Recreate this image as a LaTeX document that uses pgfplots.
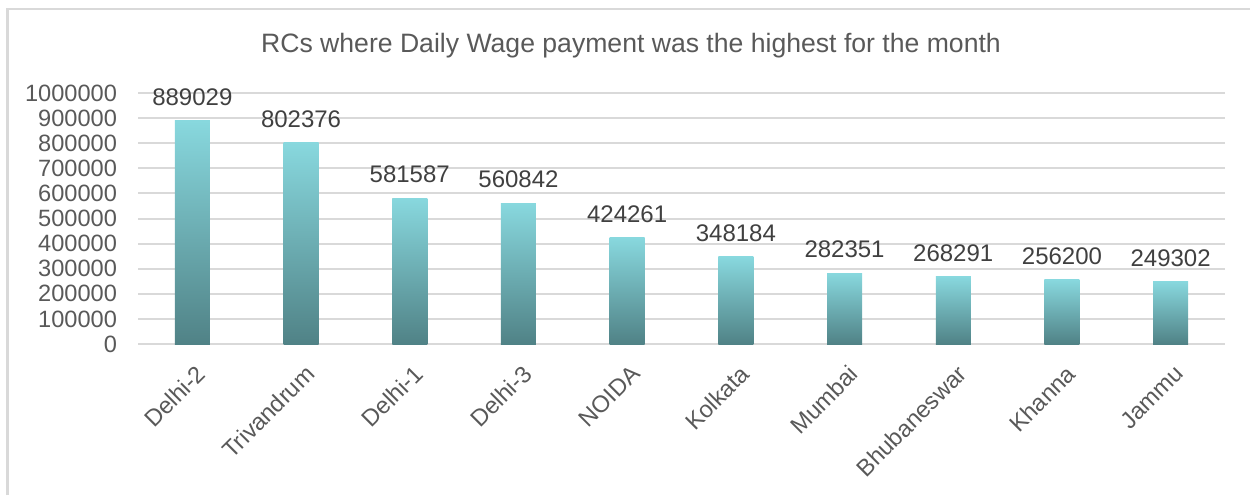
\documentclass[border=0pt]{standalone}
\usepackage{pgfplots}
\pgfplotsset{compat=1.18}
\usepackage{fontspec}
\setmainfont{Liberation Sans}
\definecolor{gridc}{HTML}{D9D9D9}
\definecolor{txt}{HTML}{595959}
\definecolor{lbl}{HTML}{404040}
\definecolor{bartop}{HTML}{88D8DE}
\definecolor{barbot}{HTML}{508286}
\begin{document}
\begin{tikzpicture}
\path[use as bounding box] (0pt,0pt) rectangle (625pt,-247.5pt);
\draw[gridc, line width=1.2pt] (3.8pt,-247.5pt) -- (3.8pt,-4.6pt) -- (625pt,-4.6pt);
\node[text=txt, font=\fontsize{13.3}{15}\selectfont] at (315.5pt,-22.8pt) {RCs where Daily Wage payment was the highest for the month};
\begin{axis}[
  at={(69pt,-172pt)}, anchor=south west,
  width=543.5pt, height=125.5pt, scale only axis,
  xmin=-0.5, xmax=9.5, ymin=0, ymax=1000000,
  ytick={0,100000,...,1000000},
  xtick={0,...,9},
  xticklabels={Delhi-2,Trivandrum,Delhi-1,Delhi-3,NOIDA,Kolkata,Mumbai,Bhubaneswar,Khanna,Jammu},
  scaled y ticks=false,
  /pgf/number format/assume math mode=true,
  yticklabel={\pgfmathprintnumber[fixed,precision=0,1000 sep={}]{\tick}},
  axis line style={draw=none},
  major tick length=0pt,
  ymajorgrids,
  grid style={gridc, line width=1pt},
  ticklabel style={font=\fontsize{11.8}{14}\selectfont, text=txt},
  yticklabel style={xshift=-7pt},
  xticklabel style={rotate=45, anchor=north east, xshift=-2.5pt, yshift=-4.5pt},
  ybar, bar width=17.5pt, bar shift=0pt,
  point meta=explicit symbolic,
  nodes near coords,
  nodes near coords style={text=lbl, font=\fontsize{12}{14}\selectfont, anchor=south, yshift=4pt},
  every axis plot/.append style={draw=none, top color=bartop, bottom color=barbot},
  clip=false,
]
\addplot coordinates {(0,889029) [889029]};
\addplot coordinates {(1,802376) [802376]};
\addplot coordinates {(2,581587) [581587]};
\addplot coordinates {(3,560842) [560842]};
\addplot coordinates {(4,424261) [424261]};
\addplot coordinates {(5,348184) [348184]};
\addplot coordinates {(6,282351) [282351]};
\addplot coordinates {(7,268291) [268291]};
\addplot coordinates {(8,256200) [256200]};
\addplot coordinates {(9,249302) [249302]};
\end{axis}
\end{tikzpicture}
\end{document}
